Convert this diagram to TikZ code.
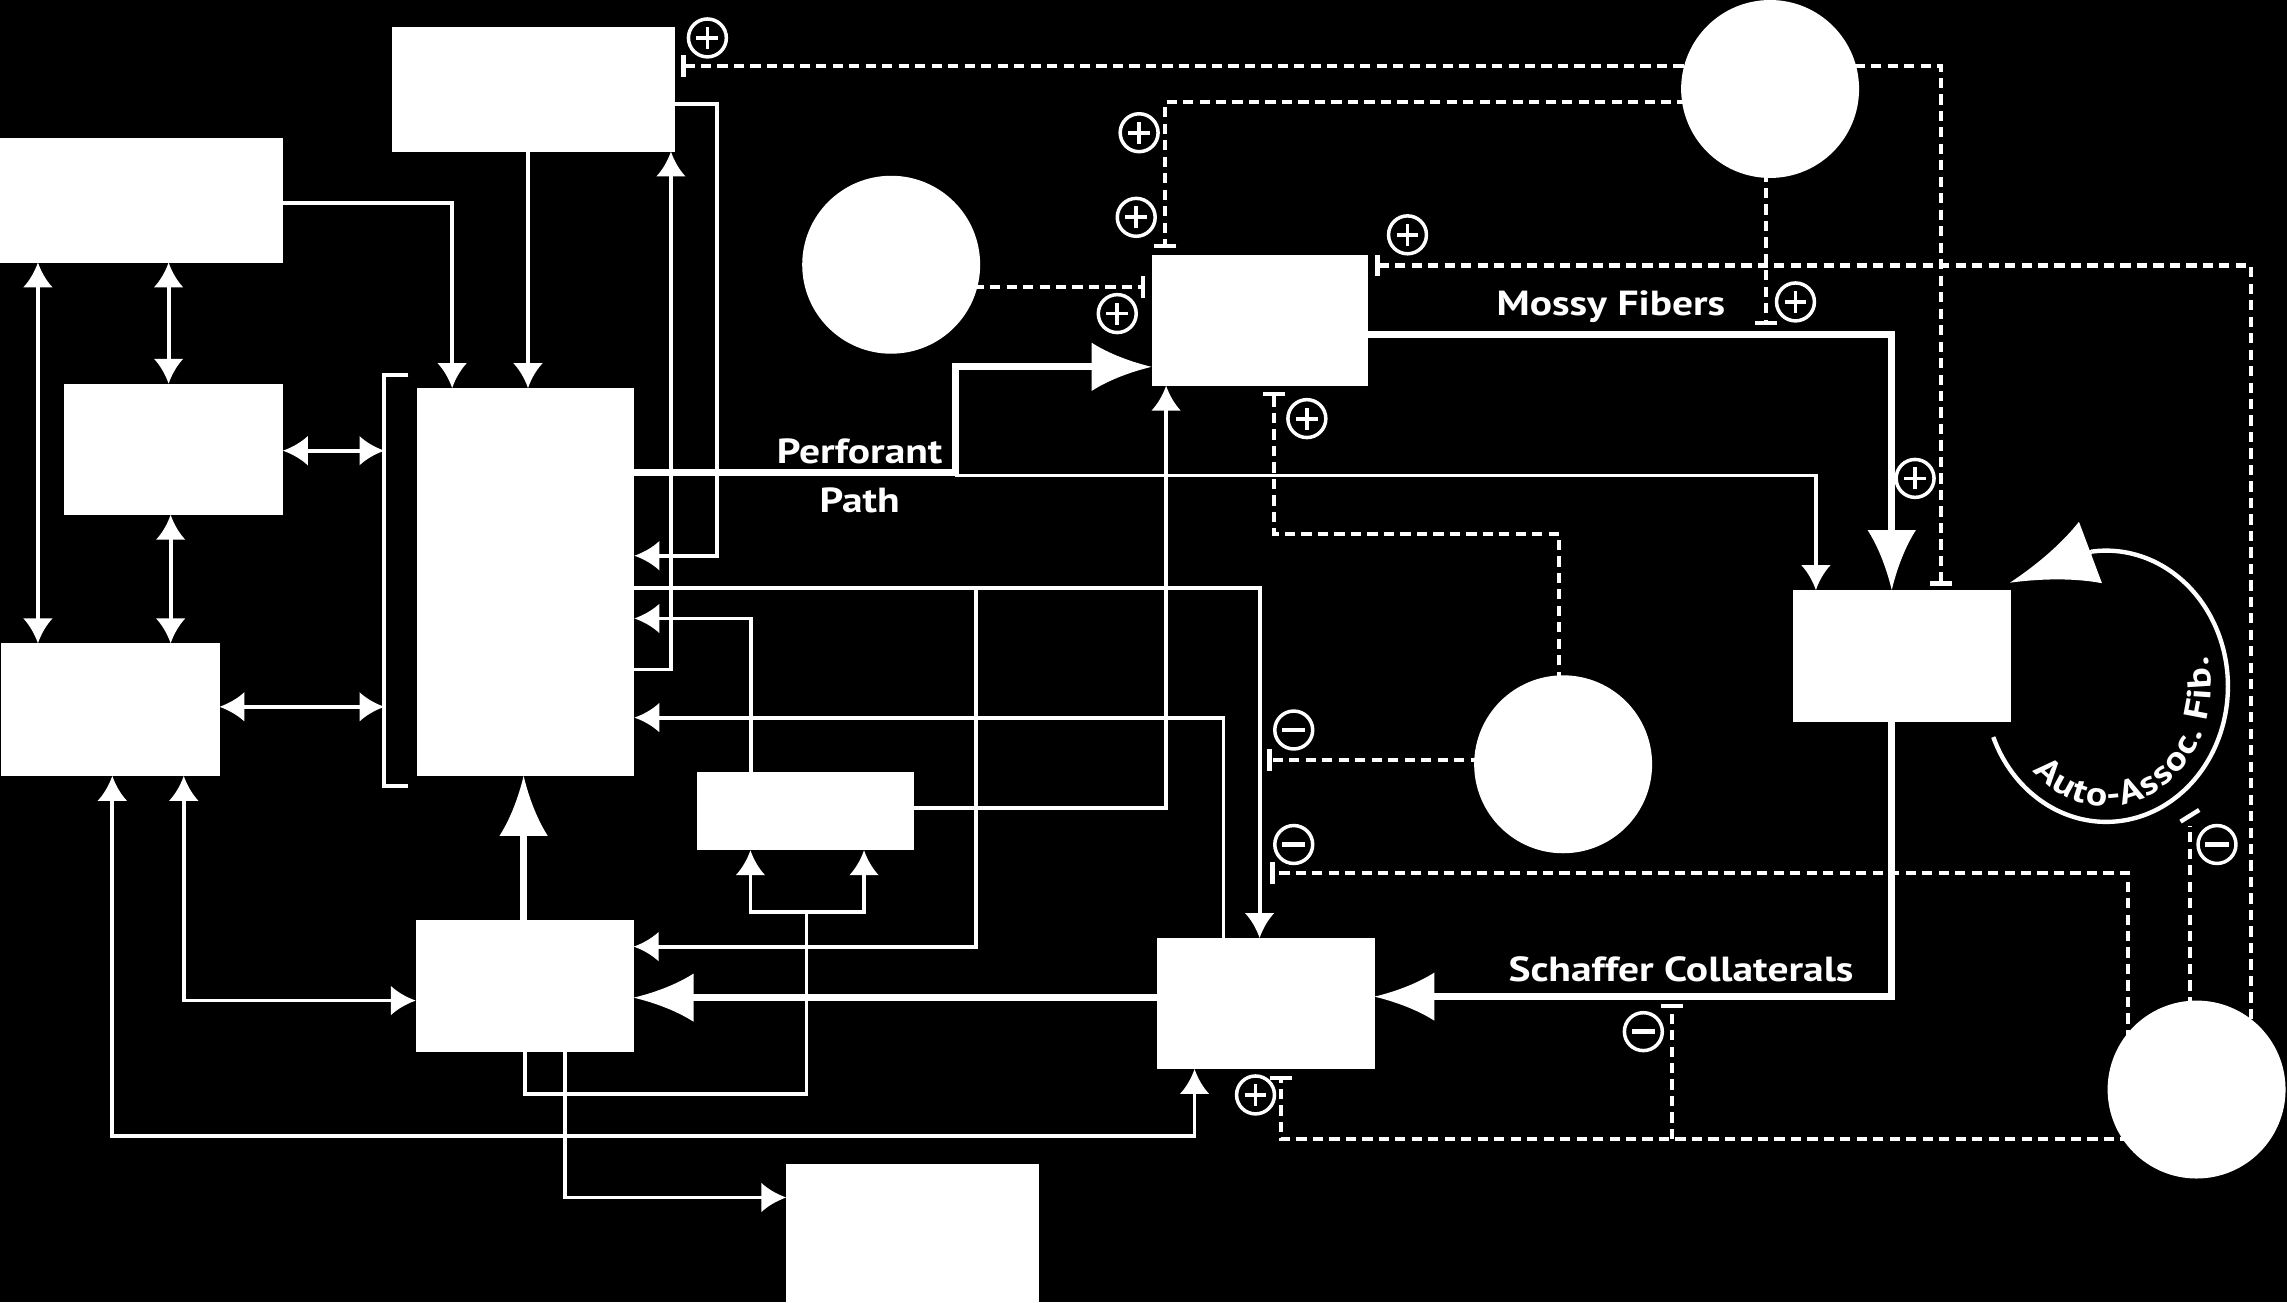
\documentclass[tikz,border=0pt]{standalone}
\usepackage{fontspec}
\setmainfont{PT Sans}
\newfontfamily\lblfont[FakeStretch=1.19]{PT Sans}
\usetikzlibrary{arrows.meta}
\pgfdeclarelayer{bg}
\pgfsetlayers{bg,main}
\pgfdeclarearrow{
  name = Cave,
  parameters = {\the\pgfarrowlength,\the\pgfarrowwidth},
  setup code = {
    \pgfarrowssettipend{0pt}
    \pgfarrowssetlineend{-.5\pgfarrowlength}
    \pgfarrowssetbackend{-\pgfarrowlength}
    \pgfarrowshullpoint{0pt}{0pt}
    \pgfarrowsupperhullpoint{-\pgfarrowlength}{.5\pgfarrowwidth}
    \pgfarrowssavethe\pgfarrowlength
    \pgfarrowssavethe\pgfarrowwidth
  },
  drawing code = {
    \pgfpathmoveto{\pgfpointorigin}
    \pgfpathcurveto{\pgfpoint{-.4\pgfarrowlength}{.12\pgfarrowwidth}}{\pgfpoint{-.75\pgfarrowlength}{.3\pgfarrowwidth}}{\pgfpoint{-\pgfarrowlength}{.5\pgfarrowwidth}}
    \pgfpathlineto{\pgfpoint{-\pgfarrowlength}{-.5\pgfarrowwidth}}
    \pgfpathcurveto{\pgfpoint{-.75\pgfarrowlength}{-.3\pgfarrowwidth}}{\pgfpoint{-.4\pgfarrowlength}{-.12\pgfarrowwidth}}{\pgfpointorigin}
    \pgfpathclose
    \pgfusepathqfill
  },
  defaults = {length = 17bp, width = 20bp}
}
\begin{document}
\begin{tikzpicture}[x=1bp, y=-1bp,
  box/.style={rectangle, fill=white, draw=none, inner sep=0pt, outer sep=0pt},
  cell/.style={circle, fill=white, draw=none, inner sep=0pt, outer sep=0pt, minimum size=122bp},
  wire/.style={draw=white, line width=2.6bp},
  fat/.style={draw=white, line width=4.8bp},
  dsh/.style={draw=white, line width=2.8bp, dash pattern=on 7bp off 4.3bp},
  ar/.style={-{Cave[length=17bp,width=20bp]}},
  dar/.style={{Cave[length=17bp,width=20bp]}-{Cave[length=17bp,width=20bp]}},
  bigar/.style={-{Cave[length=41bp,width=33bp]}},
  tbar/.style={-{Bar[width=15bp,line width=3bp]}},
  btbar/.style={{Bar[width=15bp,line width=3bp]}-{Bar[width=15bp,line width=3bp]}},
  sbar/.style={{Bar[width=15bp,line width=3bp]}-},
  sgn/.style={circle, draw=white, line width=2.4bp, minimum size=26bp, inner sep=0pt},
  pls/.style={sgn, path picture={\draw[white, line width=2.6bp] ([xshift=-7.5bp]path picture bounding box.center) -- ([xshift=7.5bp]path picture bounding box.center) ([yshift=-7.5bp]path picture bounding box.center) -- ([yshift=7.5bp]path picture bounding box.center);}},
  mns/.style={sgn, path picture={\draw[white, line width=3.2bp] ([xshift=-8bp]path picture bounding box.center) -- ([xshift=8bp]path picture bounding box.center);}},
  lbl/.style={text=white, inner sep=0pt, font=\lblfont\bfseries\fontsize{24}{24}\selectfont},
  arcl/.style={text=white, inner sep=0pt, font=\lblfont\bfseries\fontsize{23}{23}\selectfont},
]
\begin{pgfonlayer}{bg}
\fill[black] (0,0) rectangle (1568,893);
\end{pgfonlayer}
\useasboundingbox (0,0) rectangle (1568,893);

% boxes
\node[box, minimum width=194bp, minimum height=85.5bp] (A) at (97,137.25) {};
\node[box, minimum width=194.5bp, minimum height=85.5bp] (B) at (365.75,61.25) {};
\node[box, minimum width=150bp, minimum height=90bp] (C) at (119,308) {};
\node[box, minimum width=149bp, minimum height=266bp] (D) at (360.5,399) {};
\node[box, minimum width=149.8bp, minimum height=91bp] (E) at (75.6,486.5) {};
\node[box, minimum width=148.5bp, minimum height=54bp] (F) at (552.25,556) {};
\node[box, minimum width=149.5bp, minimum height=90.5bp] (G) at (359.75,676.25) {};
\node[box, minimum width=173bp, minimum height=102bp] (H) at (625.5,849) {};
\node[box, minimum width=148.5bp, minimum height=89.5bp] (DG) at (863.75,219.75) {};
\node[box, minimum width=149.5bp, minimum height=90.5bp] (CA3) at (1303.75,449.75) {};
\node[box, minimum width=149.4bp, minimum height=90bp] (CA1) at (867.7,688) {};

% cells
\node[cell] (c1) at (611,181.5) {};
\node[cell] (c2) at (1213.6,61) {};
\node[cell] (c3) at (1071.7,524) {};
\node[cell] (c4) at (1506,747) {};

% dashed (behind cells)
\begin{pgfonlayer}{bg}
\draw[dsh, btbar] (467,45) -| (1331,401.6);
\draw[dsh, tbar] (c2.center |- 0,70) -| (799,170);
\draw[dsh, tbar] (1211,0 |- c2.center) -- (1211,223);
\draw[dsh, sbar] (943,182) -| (1543,0 |- c4.center);
\draw[dsh, tbar] (c1.center |- 0,197) -- (785,197);
\draw[dsh, tbar] (1069,0 |- c3.center) |- (873.5,366) -- (873.5,268.5);
\draw[dsh, tbar] (c3.center |- 0,521) -- (869,521);
\draw[dsh, tbar] (1459,0 |- c4.center) |- (871,598.7);
\draw[dsh, tbar] (c4.center |- 0,781) -| (878,737.7);
\draw[dsh, tbar] (1146.3,781) -- (1146.3,688.4);
\draw[dsh] (1501.5,0 |- c4.center) -- (1501.5,566);
\end{pgfonlayer}
\draw[white, line width=3bp] (1495,563.3) -- (1507.8,555.3);

% solid connectors
\draw[wire, ar] (A.east |- 0,139) -| (310,0 |- D.north);
\draw[wire, ar] (362,0 |- B.south) -- (362,0 |- D.north);
\draw[wire, ar] (D.east |- 0,459) -| (460,0 |- B.south);
\draw[wire, ar] (B.east |- 0,71.5) -| (491.5,381) -- (D.east |- 0,381);
\draw[fat, bigar] (D.east |- 0,324) -| (655,251.5) -- (DG.west |- 0,251.5);
\draw[wire, ar] (655,326) -| (1245,0 |- CA3.north);
\draw[wire, ar] (D.east |- 0,403) -| (863.6,0 |- CA1.north);
\draw[wire, ar] (669,403) |- (G.east |- 0,649);
\draw[wire, ar] (838.8,0 |- CA1.north) |- (D.east |- 0,492);
\draw[wire, ar] (515,0 |- F.north) |- (D.east |- 0,424);
\draw[wire, ar] (F.east |- 0,554) -| (799.5,0 |- DG.south);
\draw[wire] (360,0 |- G.south) |- (553,750) -- (553,625);
\draw[wire, ar] (553,625) -| (514.5,0 |- F.south);
\draw[wire, ar] (553,625) -| (592.4,0 |- F.south);
\draw[wire, ar] (387.5,0 |- G.south) |- (H.west |- 0,821);
\draw[wire, dar] (77,0 |- E.south) |- (819,779) -- (819,0 |- CA1.south);
\draw[wire, dar] (126,0 |- E.south) |- (G.west |- 0,686);
\draw[fat, bigar] (CA1.west |- 0,684) -- (G.east |- 0,684);
\draw[fat, bigar] (359,0 |- G.north) -- (359,0 |- D.south);
\draw[fat, bigar] (1297,0 |- CA3.south) |- (CA1.east |- 0,683.3);
\draw[fat, bigar] (DG.east |- 0,229.5) -| (1297,0 |- CA3.north);
\draw[wire, dar] (26,0 |- A.south) -- (26,0 |- E.north);
\draw[wire, dar] (115.6,0 |- A.south) -- (115.6,0 |- C.north);
\draw[wire, dar] (117,0 |- C.south) -- (117,0 |- E.north);
\draw[wire, dar] (C.east |- 0,309) -- (263.5,309);
\draw[wire, dar] (E.east |- 0,484.6) -- (263.5,484.6);
\draw[wire] (280,257) -- (263.5,257) -- (263.5,539) -- (280,539);

% auto-associative loop
\draw[white, line width=3bp] plot[smooth, samples=60, domain=-158:97] ({1444+83.5*cos(-\x)},{470.5+93*sin(-\x)});
\draw[white, line width=3bp, -{Cave[length=59bp,width=45bp]}] (1434,378.5) -- (1378,399.5);
\foreach \c/\t [count=\i] in {A/128.4, u/116.0, t/105.8, o/95.5, -/85.3, A/74.6, s/63.0, s/53.4, o/42.8, c/32.3, ./25.1, F/12.3, i/4.4, b/-4.0, ./-12.2}
  \node[arcl, anchor=base, rotate={atan2(82*cos(\t),72*sin(\t))}] (ch\i) at ({1444+72*cos(\t)},{470.5+82*sin(\t)}) {\c};

% signs
\node[pls] (p1) at (485,26) {};
\node[pls] (p2) at (781,91) {};
\node[pls] (p3) at (779,149) {};
\node[pls] (p4) at (766,215) {};
\node[pls] (p5) at (965,161) {};
\node[pls] (p6) at (1231,207) {};
\node[pls] (p7) at (896,287) {};
\node[pls] (p8) at (1313,328) {};
\node[pls] (p9) at (860.8,750.7) {};
\node[mns] (m1) at (887,500.5) {};
\node[mns] (m2) at (887,579) {};
\node[mns] (m3) at (1126.7,707.3) {};
\node[mns] (m4) at (1520,579) {};

% labels
\node[lbl, anchor=base] (t1) at (589.4,317.6) {Perforant};
\node[lbl, anchor=base] (t2) at (589.4,351.5) {Path};
\node[lbl, anchor=base] (t3) at (1104.5,216) {Mossy Fibers};
\node[lbl, anchor=base] (t4) at (1152.5,673) {Schaffer Collaterals};
\end{tikzpicture}
\end{document}
